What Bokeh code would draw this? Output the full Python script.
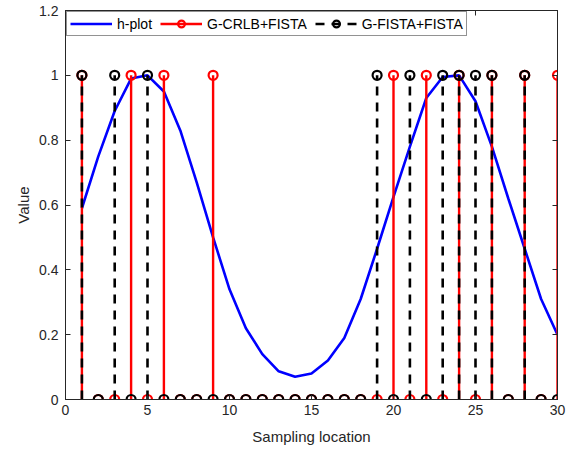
from bokeh.plotting import figure
from bokeh.models import (ColumnDataSource, FixedTicker, LinearAxis, Legend,
                          LegendItem, Range1d)
from bokeh.embed import file_html
from bokeh.resources import INLINE

# Sampling locations and the three series
x_loc = list(range(1, 31))
h_plot = [0.59, 0.75, 0.89, 0.99, 1.00, 0.95, 0.83, 0.67, 0.50, 0.34,
          0.22, 0.14, 0.087, 0.07, 0.08, 0.12, 0.19, 0.31, 0.465, 0.625,
          0.78, 0.93, 0.995, 1.00, 0.92, 0.78, 0.62, 0.465, 0.31, 0.20]
g_crlb = [1, 0, 0, 1, 0, 1, 0, 0, 1, 0,
          0, 0, 0, 0, 0, 0, 0, 0, 0, 1,
          0, 1, 0, 1, 0, 1, 0, 1, 0, 1]
g_fista = [1, 0, 1, 0, 1, 0, 0, 0, 0, 0,
           0, 0, 0, 0, 0, 0, 0, 0, 1, 0,
           1, 0, 1, 1, 1, 1, 0, 1, 0, 0]

x_ticks = [0, 5, 10, 15, 20, 25, 30]
y_ticks = [0, 0.2, 0.4, 0.6, 0.8, 1.0, 1.2]
y_tick_labels = ["0", "0.2", "0.4", "0.6", "0.8", "1", "1.2"]

FONT = "Liberation Sans"
AXIS_COLOR = "#262626"

src = ColumnDataSource(dict(x=x_loc, h=h_plot, crlb=g_crlb, fista=g_fista,
                            base=[0] * len(x_loc)))

p = figure(width=575, height=453, x_range=Range1d(0, 30), y_range=Range1d(0, 1.2),
           output_backend="svg", toolbar_location=None,
           min_border_left=65, min_border_right=18, min_border_top=10,
           min_border_bottom=54, x_axis_label="Sampling location",
           y_axis_label="Value")
p.grid.visible = False
p.outline_line_color = AXIS_COLOR
p.outline_line_width = 1
p.background_fill_color = "white"
p.border_fill_color = "white"

# Curve
r_h = p.line("x", "h", source=src, line_color="#0000FF", line_width=2.6)

# Stem series 1 (red, solid)
r_crlb_stem = p.segment(x0="x", y0="base", x1="x", y1="crlb", source=src,
                        line_color="#FF0000", line_width=2.4)
r_crlb_mark = p.scatter("x", "crlb", source=src, marker="circle", size=9,
                        fill_color=None, line_color="#FF0000", line_width=2.2)

# Stem series 2 (black, dashed)
r_fista_stem = p.segment(x0="x", y0="base", x1="x", y1="fista", source=src,
                         line_color="#000000", line_width=2.6, line_dash="9 7")
r_fista_mark = p.scatter("x", "fista", source=src, marker="circle", size=9,
                         fill_color=None, line_color="#000000", line_width=2.2)

# Axes styling: ticks pointing inward, box style
def style_axis(ax):
    ax.major_tick_in = 5
    ax.major_tick_out = 0
    ax.minor_tick_in = 0
    ax.minor_tick_out = 0
    ax.axis_line_color = AXIS_COLOR
    ax.major_tick_line_color = AXIS_COLOR
    ax.major_label_text_color = AXIS_COLOR
    ax.major_label_text_font = FONT
    ax.major_label_text_font_size = "14px"
    ax.axis_label_text_font = FONT
    ax.axis_label_text_font_style = "normal"
    ax.axis_label_text_font_size = "15px"
    ax.axis_label_text_color = AXIS_COLOR

xa = p.xaxis[0]
ya = p.yaxis[0]
style_axis(xa)
style_axis(ya)
xa.ticker = FixedTicker(ticks=x_ticks)
ya.ticker = FixedTicker(ticks=y_ticks)
ya.major_label_overrides = {t: s for t, s in zip(y_ticks, y_tick_labels)}
xa.major_label_standoff = 5
xa.axis_label_standoff = 10
ya.major_label_standoff = 7
ya.axis_label_standoff = 4

# Box edges on top and right carry tick marks only
top_ax = LinearAxis(ticker=FixedTicker(ticks=x_ticks), major_label_standoff=0,
                    major_label_text_font_size="1px",
                    major_label_overrides={t: "" for t in x_ticks})
right_ax = LinearAxis(ticker=FixedTicker(ticks=y_ticks), major_label_standoff=0,
                      major_label_text_font_size="1px",
                      major_label_overrides={t: "" for t in y_ticks})
for ax in (top_ax, right_ax):
    ax.major_tick_in = 5
    ax.major_tick_out = 0
    ax.minor_tick_in = 0
    ax.minor_tick_out = 0
    ax.axis_line_color = AXIS_COLOR
    ax.major_tick_line_color = AXIS_COLOR
p.add_layout(top_ax, "above")
p.add_layout(right_ax, "right")

legend = Legend(items=[
    LegendItem(label="h-plot", renderers=[r_h]),
    LegendItem(label="G-CRLB+FISTA", renderers=[r_crlb_stem, r_crlb_mark]),
    LegendItem(label="G-FISTA+FISTA", renderers=[r_fista_stem, r_fista_mark]),
], orientation="horizontal", location=(1, 363), margin=0)
legend.label_text_font = FONT
legend.label_text_font_size = "14px"
legend.label_text_color = "#000000"
legend.glyph_width = 42
legend.glyph_height = 17
legend.label_height = 17
legend.label_standoff = 5
legend.spacing = 8
legend.padding = 3
legend.border_line_color = AXIS_COLOR
legend.border_line_width = 1
legend.background_fill_color = "white"
legend.background_fill_alpha = 1.0
p.add_layout(legend, "center")

open("out.html", "w").write(file_html(p, INLINE))
